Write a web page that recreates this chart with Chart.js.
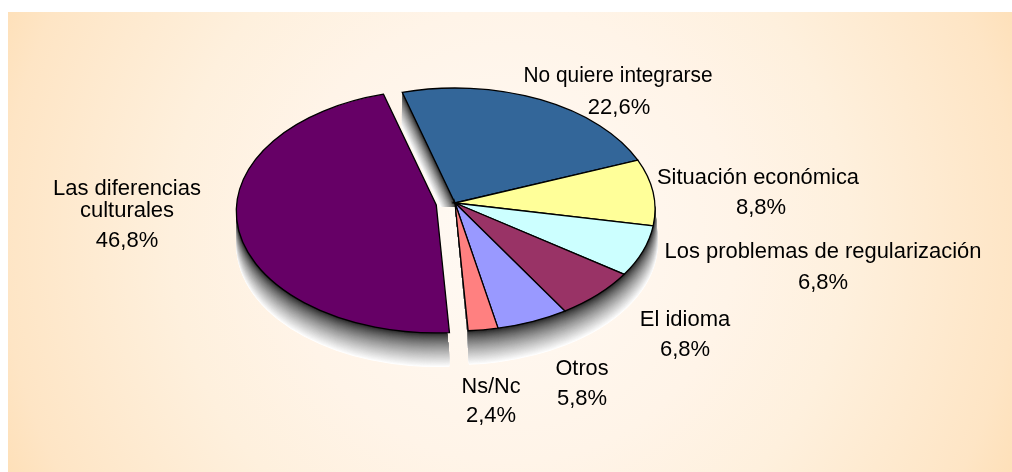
<!DOCTYPE html>
<html lang="es">
<head>
<meta charset="utf-8">
<title>Pie</title>
<style>html,body{margin:0;padding:0;background:#fff}canvas{display:block}</style>
<script src="https://cdn.jsdelivr.net/npm/chart.js@4/dist/chart.umd.js"></script>
</head>
<body>
<canvas id="c" width="1012" height="472"></canvas>
<script>
const categories = ['No quiere integrarse','Situación económica','Los problemas de regularización','El idioma','Otros','Ns/Nc','Las diferencias\nculturales'];
const values = [22.6,8.8,6.8,6.8,5.8,2.4,46.8];
const colors = ['#336699','#FFFF99','#CCFFFF','#993366','#9999FF','#FF8080','#660066'];
const sliceOffsets = [0,0,0,0,0,0,19];

/* label anchors: [name x, first-line y, value x, value y, name max width] */
const labelPlaces = [
  [618,76,619,108,189],[758,178,761,208,202],[823,252,823,283,317],[685,320,685,350,91],
  [582,369,582,399,53],[491,387,491,416,59],[127,189,127,241,148]
];
const LINE = 22;
const TILT = 121.5/200, APEX = 6.5, DEPTH = 34;

function slicePath(ctx, el, dy, grow){
  const p = el.getProps(['x','y','startAngle','endAngle','outerRadius'], true);
  const half = (p.startAngle+p.endAngle)/2, off = el.options.offset || 0;
  const cx = p.x+Math.cos(half)*off, cy = p.y+Math.sin(half)*off*TILT+dy;
  ctx.beginPath();
  ctx.moveTo(cx, cy-APEX);
  ctx.ellipse(cx, cy, p.outerRadius+grow, p.outerRadius*TILT, 0, p.startAngle, p.endAngle);
  ctx.closePath();
}
const Arc = Chart.registry.getElement('arc');
Arc.prototype.draw = function(ctx){
  ctx.save();
  slicePath(ctx, this, 0, 0);
  ctx.fillStyle = this.options.backgroundColor;
  ctx.fill();
  ctx.lineWidth = this.options.borderWidth;
  ctx.strokeStyle = this.options.borderColor;
  ctx.lineJoin = 'miter';
  ctx.stroke();
  ctx.restore();
};

const backdrop = {
  id:'backdrop',
  beforeDraw(chart){
    const ctx = chart.ctx;
    ctx.save();
    ctx.fillStyle='#fff';
    ctx.fillRect(0,0,1012,472);
    ctx.beginPath(); ctx.rect(8,12,1004,460); ctx.clip();
    const g = ctx.createRadialGradient(510,236,0,510,236,565);
    g.addColorStop(0,'#FFFAF5');
    g.addColorStop(0.4,'#FFF4E8');
    g.addColorStop(0.6,'#FEF0DD');
    g.addColorStop(0.9,'#FEE5C5');
    g.addColorStop(1,'#FEDFB6');
    ctx.fillStyle=g;
    ctx.fillRect(0,0,1012,472);
    ctx.restore();
  }
};
const walls = {
  id:'walls',
  beforeDatasetsDraw(chart){
    const ctx = chart.ctx, arcs = chart.getDatasetMeta(0).data;
    const last = arcs.length-1;
    for(const group of ['right','left']){
      ctx.save();
      ctx.beginPath();
      if(group==='right'){
        ctx.moveTo(0,0);ctx.lineTo(1012,0);ctx.lineTo(1012,472);ctx.lineTo(470,472);
        ctx.lineTo(469,368);ctx.lineTo(467,330);ctx.lineTo(455,207);ctx.lineTo(430,207);
      }else{
        ctx.moveTo(0,0);ctx.lineTo(436,205);ctx.lineTo(447,333);ctx.lineTo(451,368);
        ctx.lineTo(451,472);ctx.lineTo(0,472);
      }
      ctx.closePath(); ctx.clip();
      for(let i=DEPTH;i>0;i-=0.5){
        const t=i/DEPTH, v=Math.round(25+230*Math.pow(t,0.7));
        ctx.fillStyle='rgb('+v+','+v+','+v+')';
        arcs.forEach((el,k)=>{
          if((k===last)!==(group==='left')) return;
          slicePath(ctx,el,i,group==='right'?3*t:0);
          ctx.fill();
        });
      }
      ctx.restore();
    }
  }
};
const labels = {
  id:'labels',
  afterDatasetsDraw(chart){
    const ctx = chart.ctx;
    ctx.save();
    ctx.fillStyle='#000';
    ctx.font='22px "Liberation Sans", Arial, sans-serif';
    ctx.textAlign='center'; ctx.textBaseline='middle';
    categories.forEach((name,i)=>{
      const [nx,ny,vx,vy,mw]=labelPlaces[i];
      name.split('\n').forEach((ln,j)=>ctx.fillText(ln,nx,ny+j*LINE,mw));
      ctx.fillText(values[i].toFixed(1).replace('.',',')+'%',vx,vy);
    });
    ctx.restore();
  }
};

new Chart(document.getElementById('c'),{
  type:'pie',
  data:{labels:categories,datasets:[{
    data:values,backgroundColor:colors,offset:sliceOffsets,
    borderColor:'#000',borderWidth:1.3
  }]},
  options:{
    responsive:false,animation:false,
    rotation:-15.3,radius:200,
    layout:{padding:{left:0,top:0,right:102,bottom:53}},
    plugins:{legend:{display:false},tooltip:{enabled:false},title:{display:false}}
  },
  plugins:[backdrop,walls,labels]
});
</script>
</body>
</html>
